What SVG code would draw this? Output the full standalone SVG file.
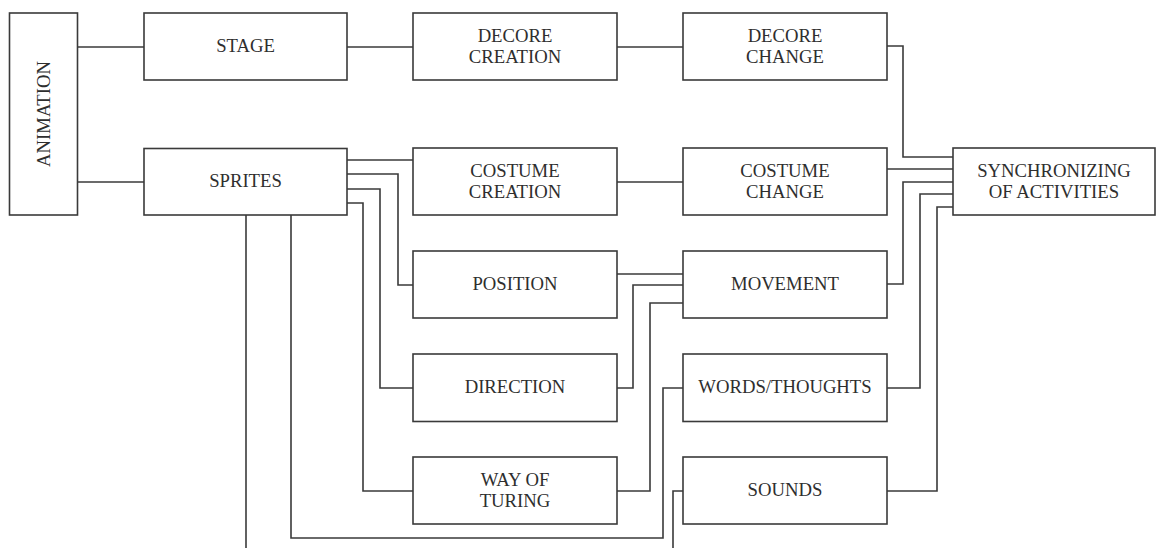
<svg xmlns="http://www.w3.org/2000/svg" width="1156" height="548" viewBox="0 0 1156 548">
<style>
.box{fill:#fff;stroke:#3a3a3a;stroke-width:1.6}
.lbl{font-family:"Liberation Serif","Times New Roman",serif;font-size:18.7px;fill:#2e2e2e;text-anchor:middle}
.con path{fill:none;stroke:#3a3a3a;stroke-width:1.6}
</style>
<rect width="1156" height="548" fill="#fff"/>
<g class="con" id="connectors">
<path d="M77,47H144"/>
<path d="M77,182H144"/>
<path d="M347,47H413"/>
<path d="M617,47H683"/>
<path d="M887,46H903V157H953"/>
<path d="M347,160H413"/>
<path d="M347,174H398V285H413"/>
<path d="M347,189H380V388H413"/>
<path d="M347,203H363V491H413"/>
<path d="M246,215V548"/>
<path d="M291,215V538H663V388H683"/>
<path d="M617,182H683"/>
<path d="M887,169H953"/>
<path d="M617,274H683"/>
<path d="M617,388H633V285H683"/>
<path d="M617,491H650V303H683"/>
<path d="M887,284H903V182H953"/>
<path d="M887,388H920V194H953"/>
<path d="M887,491H937V207H953"/>
<path d="M683,491H673V548"/>
</g>
<g id="animation"><rect class="box" x="9.5" y="13" width="68" height="202"/><text class="lbl" transform="translate(49.5,114) rotate(-90)">ANIMATION</text></g>
<g id="stage"><rect class="box" x="144" y="13" width="203" height="67"/><text class="lbl" x="245.5" y="52">STAGE</text></g>
<g id="sprites"><rect class="box" x="144" y="148.5" width="203" height="66.5"/><text class="lbl" x="245.5" y="187">SPRITES</text></g>
<g id="decore-creation"><rect class="box" x="413" y="13" width="204" height="67"/><text class="lbl" x="515" y="41.5">DECORE</text><text class="lbl" x="515" y="62.5">CREATION</text></g>
<g id="decore-change"><rect class="box" x="683" y="13" width="204" height="67"/><text class="lbl" x="785" y="41.5">DECORE</text><text class="lbl" x="785" y="62.5">CHANGE</text></g>
<g id="costume-creation"><rect class="box" x="413" y="148" width="204" height="67"/><text class="lbl" x="515" y="176.7">COSTUME</text><text class="lbl" x="515" y="197.7">CREATION</text></g>
<g id="costume-change"><rect class="box" x="683" y="148" width="204" height="67"/><text class="lbl" x="785" y="176.7">COSTUME</text><text class="lbl" x="785" y="197.7">CHANGE</text></g>
<g id="sync"><rect class="box" x="953" y="148" width="202" height="67"/><text class="lbl" x="1054" y="176.7">SYNCHRONIZING</text><text class="lbl" x="1054" y="197.7">OF ACTIVITIES</text></g>
<g id="position"><rect class="box" x="413" y="251" width="204" height="67"/><text class="lbl" x="515" y="290">POSITION</text></g>
<g id="movement"><rect class="box" x="683" y="251" width="204" height="67"/><text class="lbl" x="785" y="290">MOVEMENT</text></g>
<g id="direction"><rect class="box" x="413" y="354" width="204" height="67.5"/><text class="lbl" x="515" y="393">DIRECTION</text></g>
<g id="words"><rect class="box" x="683" y="354" width="204" height="67.5"/><text class="lbl" x="785" y="393">WORDS/THOUGHTS</text></g>
<g id="way-of-turing"><rect class="box" x="413" y="457" width="204" height="67"/><text class="lbl" x="515" y="485.5">WAY OF</text><text class="lbl" x="515" y="506.5">TURING</text></g>
<g id="sounds"><rect class="box" x="683" y="457" width="204" height="67"/><text class="lbl" x="785" y="496">SOUNDS</text></g>
</svg>
